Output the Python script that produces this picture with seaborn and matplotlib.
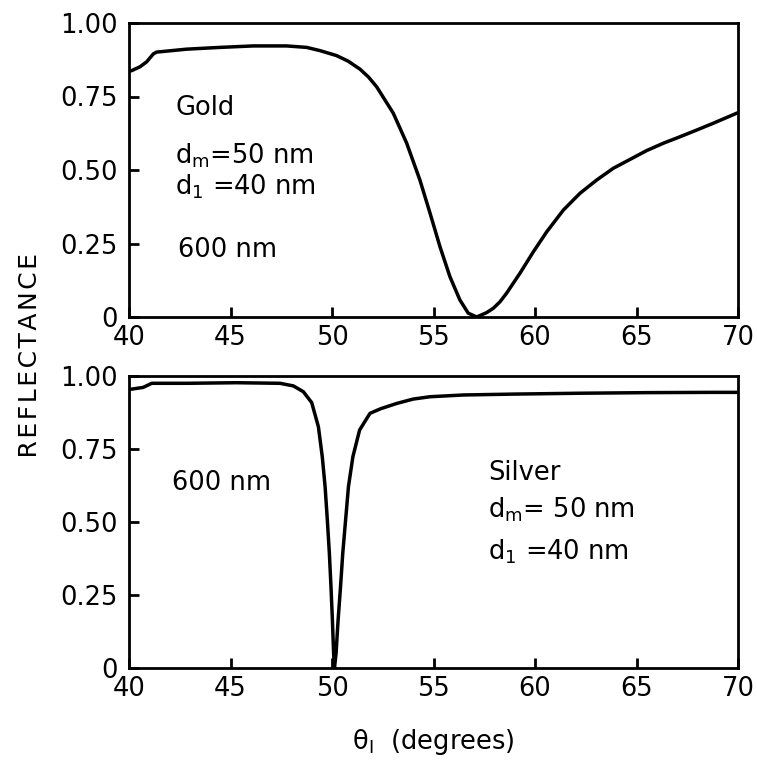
import matplotlib
matplotlib.use("Agg")
import matplotlib.pyplot as plt
import seaborn as sns
import pandas as pd

# Reflectance vs. angle of incidence, 600 nm, Kretschmann geometry
gold_theta = [40.0, 40.13, 40.54, 40.87, 41.2, 41.36, 42.84, 44.48, 46.12, 47.77,
              48.75, 49.41, 50.23, 50.8, 51.38, 51.8, 52.2, 53.02, 53.68, 54.33,
              54.83, 55.32, 55.81, 56.3, 56.71, 57.13, 57.62, 57.95, 58.28, 58.6,
              59.26, 59.92, 60.58, 61.4, 62.22, 63.04, 63.86, 64.68, 65.5, 66.32,
              67.14, 67.97, 68.78, 70.0]
gold_R = [0.836, 0.838, 0.851, 0.868, 0.895, 0.901, 0.911, 0.917, 0.922, 0.922,
          0.917, 0.906, 0.889, 0.870, 0.843, 0.816, 0.783, 0.693, 0.591, 0.466,
          0.353, 0.239, 0.137, 0.058, 0.013, 0.0, 0.015, 0.030, 0.052, 0.081,
          0.149, 0.222, 0.290, 0.364, 0.421, 0.466, 0.506, 0.536, 0.566, 0.591,
          0.613, 0.636, 0.659, 0.695]

silver_theta = [40.0, 40.13, 40.7, 41.12, 42.84, 45.3, 47.44, 48.1, 48.59, 49.0,
                49.33, 49.52, 49.66, 49.77, 49.87, 49.95, 50.02, 50.08, 50.12,
                50.2, 50.3, 50.42, 50.53, 50.67, 50.81, 51.03, 51.36, 51.87, 52.4,
                53.19, 54.0, 54.83, 56.47, 58.93, 62.22, 65.5, 68.78, 70.0]
silver_R = [0.955, 0.955, 0.961, 0.975, 0.975, 0.977, 0.975, 0.966, 0.946, 0.909,
            0.826, 0.724, 0.621, 0.507, 0.393, 0.278, 0.164, 0.05, 0.0,
            0.05, 0.164, 0.278, 0.393, 0.507, 0.621, 0.724, 0.815, 0.872, 0.888,
            0.906, 0.921, 0.929, 0.935, 0.938, 0.941, 0.943, 0.944, 0.944]

x_ticks = [40, 45, 50, 55, 60, 65, 70]
y_ticks = [0, 0.25, 0.50, 0.75, 1.00]
y_tick_labels = ["0", "0.25", "0.50", "0.75", "1.00"]

gold_lines = ["Gold", r"d$_{\rm m}$=50 nm", r"d$_{\rm 1}$ =40 nm", "600 nm"]
silver_lines = ["Silver", r"d$_{\rm m}$= 50 nm", r"d$_{\rm 1}$ =40 nm"]

sns.set_theme(style="white")
plt.rcParams["font.family"] = ["DejaVu Sans"]
plt.rcParams["mathtext.fontset"] = "dejavusans"

fig = plt.figure(figsize=(7.57, 7.60), dpi=100)
ax_top = fig.add_axes([129 / 757, 1 - 317 / 760, 609 / 757, 294 / 760])
ax_bot = fig.add_axes([129 / 757, 1 - 668 / 760, 609 / 757, 292 / 760])

gold = pd.DataFrame({"theta": gold_theta, "R": gold_R})
silver = pd.DataFrame({"theta": silver_theta, "R": silver_R})

sns.lineplot(data=gold, x="theta", y="R", ax=ax_top, color="black",
             linewidth=2.5, estimator=None, sort=False)
sns.lineplot(data=silver, x="theta", y="R", ax=ax_bot, color="black",
             linewidth=2.5, estimator=None, sort=False)

for ax in (ax_top, ax_bot):
    ax.set_xlim(40, 70)
    ax.set_ylim(0, 1.0)
    ax.set_xticks(x_ticks)
    ax.set_xticklabels([str(t) for t in x_ticks])
    ax.set_yticks(y_ticks)
    ax.set_yticklabels(y_tick_labels)
    ax.set_xlabel("")
    ax.set_ylabel("")
    for s in ax.spines.values():
        s.set_visible(True)
        s.set_color("black")
        s.set_linewidth(2.0)
    ax.tick_params(axis="both", direction="in", length=7, width=2.0,
                   colors="black", labelsize=18.5, top=False, right=False,
                   bottom=True, left=True)
    ax.tick_params(axis="x", pad=6)
    ax.tick_params(axis="y", pad=8)

txt = dict(fontsize=18.5, color="black", ha="left", va="baseline")
ax_top.text(42.27, 0.687, gold_lines[0], **txt)
ax_top.text(42.27, 0.523, gold_lines[1], **txt)
ax_top.text(42.27, 0.415, gold_lines[2], **txt)
ax_top.text(42.4, 0.205, gold_lines[3], **txt)

ax_bot.text(42.1, 0.610, "600 nm", **txt)
ax_bot.text(57.68, 0.644, silver_lines[0], **txt)
ax_bot.text(57.68, 0.514, silver_lines[1], **txt)
ax_bot.text(57.68, 0.373, silver_lines[2], **txt)

fig.text(30 / 757, 1 - 355 / 760,
         "\u200aR\u200aE\u200aF\u200aL\u200aE\u200aC\u200aT\u200aA\u200aN\u200aC\u200aE\u200a",
         rotation=90, ha="center", va="center", fontsize=18, color="black")
fig.text(433 / 757, 1 - 742 / 760, "\u03b8$_{\\rm I}$  (degrees)",
         ha="center", va="center", fontsize=18.5, color="black")

fig.savefig("out.png", dpi=100)
